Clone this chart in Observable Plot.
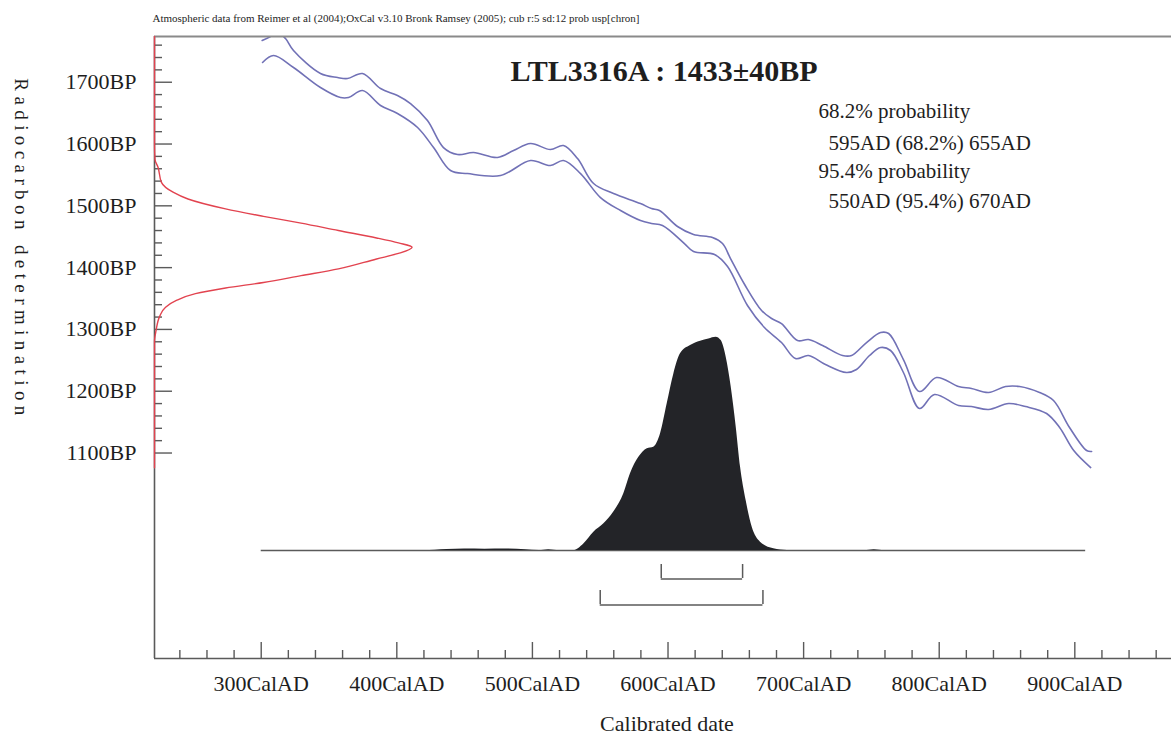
<!DOCTYPE html>
<html><head><meta charset="utf-8">
<script src="https://cdn.jsdelivr.net/npm/d3@7"></script>
<script src="https://cdn.jsdelivr.net/npm/@observablehq/plot@0.6"></script>
<style>
body{margin:0;background:#fff;}
#chart{position:relative;width:1171px;height:744px;background:#fff;}
#chart svg{position:absolute;left:0;top:0;overflow:visible;max-width:none;}
</style></head><body><div id="chart"></div>
<script>
// ---------- data ----------
const caption = "Atmospheric data from Reimer et al (2004);OxCal v3.10 Bronk Ramsey (2005); cub r:5 sd:12 prob usp[chron]";
const titleText = "LTL3316A : 1433±40BP";
const xTitle = "Calibrated date";
const yTitle = "Radiocarbon determination";

// calibration curve, upper envelope (cal AD, BP)
const upperAD = [300.7,306.9,312.0,317.9,323.8,343.7,356.3,363.6,374.7,388.0,400.5,410.1,422.6,434.4,444.8,456.6,474.3,486.1,498.6,513.3,522.9,533.3,545.1,559.8,579.7,587.8,593.7,607.0,618.8,632.8,640.2,646.1,656.5,669.0,676.4,683.7,695.5,703.6,714.0,728.7,735.4,746.4,756.8,762.7,773.6,785.5,798.0,814.2,823.8,836.4,848.9,859.3,874.0,884.3,896.1,908.7,912.4];
const upperBP = [1767.5,1774,1780.4,1770.7,1751.3,1714.1,1707.6,1706,1714.1,1689.8,1678.5,1665.5,1638,1594.3,1583,1586.2,1578.2,1589.5,1600.8,1591.1,1597.6,1576.5,1536.1,1519.9,1503.7,1495.6,1492.4,1466.5,1453.6,1448.7,1439,1414.7,1372.7,1330.6,1317.6,1309.5,1282,1283.7,1274,1257.8,1257.8,1278.8,1295,1293.4,1251.3,1199.5,1222.2,1207.6,1204.4,1197.9,1207.6,1207.6,1197.9,1184.9,1141.3,1104,1102.4];
// calibration curve, lower envelope
const lowerAD = [301,309.1,323.8,343.7,358.5,364.4,374.7,388.0,400.5,415.3,427.1,439.6,452.1,476.5,498.6,513.3,522.9,535.5,550.2,565.0,579.7,587.8,595.9,612.1,618.8,634.3,643.9,658.6,671.1,683.7,694.0,703.6,716.1,731.6,739.0,748.6,756.8,764.1,773.6,785.5,796.5,814.2,823.8,836.4,851.2,863.7,879.2,888.8,899.2,911.7];
const lowerBP = [1731.9,1743.2,1723.8,1691.4,1675.2,1675.2,1686.6,1662.3,1649.4,1626.7,1594.3,1557.1,1552.2,1549,1573.3,1565.2,1573.3,1552.2,1513.4,1492.4,1476.2,1471.4,1468.1,1439,1426.1,1421.2,1401.8,1338.7,1303.1,1278.8,1252.9,1257.8,1243.2,1230.3,1235.1,1257.8,1270.7,1265.9,1230.3,1172,1194.7,1176.9,1175.2,1170.4,1180.1,1175.2,1163.9,1141.3,1104,1076.5];

// radiocarbon measurement (BP, relative probability)
const measBP  = [1774,1600,1575,1562,1538,1522,1511,1495,1483,1472,1460,1448,1440,1433,1423,1414,1398,1387,1376,1367,1358,1347,1336,1322,1298,1280,1076];
const measRel = [0,0,0.002,0.014,0.027,0.072,0.13,0.276,0.423,0.569,0.714,0.862,0.947,1.0,0.947,0.862,0.714,0.569,0.423,0.276,0.159,0.085,0.043,0.021,0.006,0,0];

// calibrated probability (cal AD, relative probability)
const postAD  = [300,420,437,450,465,480,495,505,512,520,530.5,537.9,545.3,552.7,560,567.4,572.3,578.5,584.7,589.5,594.5,599.4,604.3,609.2,616.6,624,630.1,635.5,639.2,642.9,646.6,650.3,653.5,657.6,662.1,668.2,678,688,745,752,760,908];
const postRel = [0,0,0.005,0.007,0.006,0.007,0.003,0,0.004,0,0,0.031,0.086,0.125,0.18,0.266,0.36,0.437,0.477,0.484,0.547,0.688,0.828,0.922,0.961,0.981,0.992,1.0,0.984,0.906,0.766,0.578,0.39,0.234,0.109,0.039,0.008,0,0,0.004,0,0];

// ranges
const rangeLevels = ["68.2%","95.4%"];
const rangeFrom = [595,550];
const rangeTo = [655,670];

// axes
const xMajor = [300,400,500,600,700,800,900];
const xMinor = d3.range(240,961,20).filter(d => d % 100 !== 0);
const yMajor = [1100,1200,1300,1400,1500,1600,1700];
const yMinor = d3.range(1100,1761,20).filter(d => d % 100 !== 0);
const xDomain = [221.3, 971.3];
const yDomain = [767.5, 1774];

// ---------- build ----------
const W = 1171, H = 744;
const mL = 154, mR = 0, mT = 36, mB = 86;
const plotW = W - mL - mR, plotH = H - mT - mB;
const font = "'Liberation Serif','Times New Roman',serif";
const blue = "#7171b6", red = "#e2434f", axisC = "#5a5a5a", ink = "#1e1e1e";
const baseStyle = {fontFamily: font, background: "transparent", overflow: "visible"};

const upper = upperAD.map((ad,i) => ({ad, bp: upperBP[i]}));
const lower = lowerAD.map((ad,i) => ({ad, bp: lowerBP[i]}));
const meas = measBP.map((bp,i) => ({bp, p: measRel[i]}));
const post = postAD.map((ad,i) => ({ad, p: postRel[i]}));
const ranges = rangeLevels.map((level,i) => ({level, from: rangeFrom[i], to: rangeTo[i]}));
const rangeEnds = ranges.flatMap(r => [{level: r.level, x: r.from}, {level: r.level, x: r.to}]);

const chart = document.getElementById("chart");

// 1: axes, calibration curve, texts
const p1 = Plot.plot({
  width: W, height: H, marginLeft: mL, marginRight: mR, marginTop: mT, marginBottom: mB,
  style: baseStyle,
  x: {domain: xDomain, axis: null},
  y: {domain: yDomain, axis: null},
  marks: [
    Plot.line(upper, {x: "ad", y: "bp", stroke: blue, strokeWidth: 1.6, curve: "catmull-rom", clip: true}),
    Plot.line(lower, {x: "ad", y: "bp", stroke: blue, strokeWidth: 1.6, curve: "catmull-rom", clip: true}),
    Plot.tickX(xMinor, {x: d => d, insetTop: plotH - 8, stroke: axisC, strokeWidth: 1.4}),
    Plot.tickX(xMajor, {x: d => d, insetTop: plotH - 16, stroke: axisC, strokeWidth: 1.4}),
    Plot.tickY(yMinor, {y: d => d, insetRight: plotW - 8, stroke: axisC, strokeWidth: 1.4}),
    Plot.tickY(yMajor, {y: d => d, insetRight: plotW - 18, stroke: axisC, strokeWidth: 1.4}),
    Plot.ruleX([xDomain[0]], {stroke: axisC, strokeWidth: 1.6}),
    Plot.ruleY([yDomain[0]], {stroke: axisC, strokeWidth: 1.6}),
    Plot.ruleY([yDomain[1]], {stroke: "#8a8a8a", strokeWidth: 2}),
    Plot.text(xMajor, {x: d => d, text: d => `${d}CalAD`, frameAnchor: "bottom", dy: 32, fontSize: 22, fill: ink}),
    Plot.text(yMajor, {y: d => d, text: d => `${d}BP`, frameAnchor: "left", dx: -18, textAnchor: "end", fontSize: 22, fill: ink}),
    Plot.text([xTitle], {frameAnchor: "bottom", dx: 4, dy: 72, fontSize: 22, fill: ink}),
    Plot.text([yTitle], {frameAnchor: "top-left", dx: -126, dy: 213, rotate: 90, textAnchor: "middle", fontSize: 19, fill: ink}),
    Plot.text([caption], {frameAnchor: "top-left", dx: -2, dy: -22, textAnchor: "start", fontSize: 11, fill: ink}),
    Plot.text([titleText], {frameAnchor: "top-left", dx: 356, dy: 44, lineAnchor: "bottom", textAnchor: "start", fontSize: 30, fontWeight: "bold", fill: ink}),
    Plot.text([`${rangeLevels[0]} probability`], {frameAnchor: "top-left", dx: 664, dy: 81, lineAnchor: "bottom", textAnchor: "start", fontSize: 21, fill: ink}),
    Plot.text([`${rangeFrom[0]}AD (${rangeLevels[0]}) ${rangeTo[0]}AD`], {frameAnchor: "top-left", dx: 674, dy: 113, lineAnchor: "bottom", textAnchor: "start", fontSize: 21, fill: ink}),
    Plot.text([`${rangeLevels[1]} probability`], {frameAnchor: "top-left", dx: 664, dy: 141, lineAnchor: "bottom", textAnchor: "start", fontSize: 21, fill: ink}),
    Plot.text([`${rangeFrom[1]}AD (${rangeLevels[1]}) ${rangeTo[1]}AD`], {frameAnchor: "top-left", dx: 674, dy: 171, lineAnchor: "bottom", textAnchor: "start", fontSize: 21, fill: ink})
  ]
});
d3.select(p1).selectAll("text").filter(function(){ return this.textContent === yTitle; }).style("letter-spacing", "5.4px");
chart.appendChild(p1);

// 2: calibrated probability distribution
const p2 = Plot.plot({
  width: W, height: H, marginLeft: mL, marginRight: mR, marginTop: 336.7, marginBottom: H - 550,
  style: baseStyle,
  x: {domain: xDomain, axis: null},
  y: {domain: [0, 1], axis: null},
  marks: [
    Plot.ruleY([0], {x1: postAD[0], x2: postAD[postAD.length - 1], stroke: axisC, strokeWidth: 1.6}),
    Plot.areaY(post, {x: "ad", y: "p", fill: "#232428", curve: "monotone-x"})
  ]
});
chart.appendChild(p2);

// 3: range brackets
const p3 = Plot.plot({
  width: W, height: H, marginLeft: mL, marginRight: mR, marginTop: 563, marginBottom: H - 605,
  style: baseStyle,
  x: {domain: xDomain, axis: null},
  y: {type: "band", domain: rangeLevels, paddingInner: 0.444, paddingOuter: 0, axis: null},
  marks: [
    Plot.ruleY(ranges, {y: "level", x1: "from", x2: "to", dy: 7.5, stroke: axisC, strokeWidth: 1.5}),
    Plot.tickX(rangeEnds, {x: "x", y: "level", stroke: axisC, strokeWidth: 1.5})
  ]
});
chart.appendChild(p3);

// 4: radiocarbon measurement on the BP axis
const p4 = Plot.plot({
  width: W, height: H, marginLeft: mL, marginRight: W - 411.6, marginTop: mT, marginBottom: mB,
  style: baseStyle,
  x: {domain: [0, 1], axis: null},
  y: {domain: yDomain, axis: null},
  marks: [
    Plot.line(meas, {x: "p", y: "bp", stroke: red, strokeWidth: 1.4, curve: "monotone-y"})
  ]
});
chart.appendChild(p4);
</script>
</body></html>
